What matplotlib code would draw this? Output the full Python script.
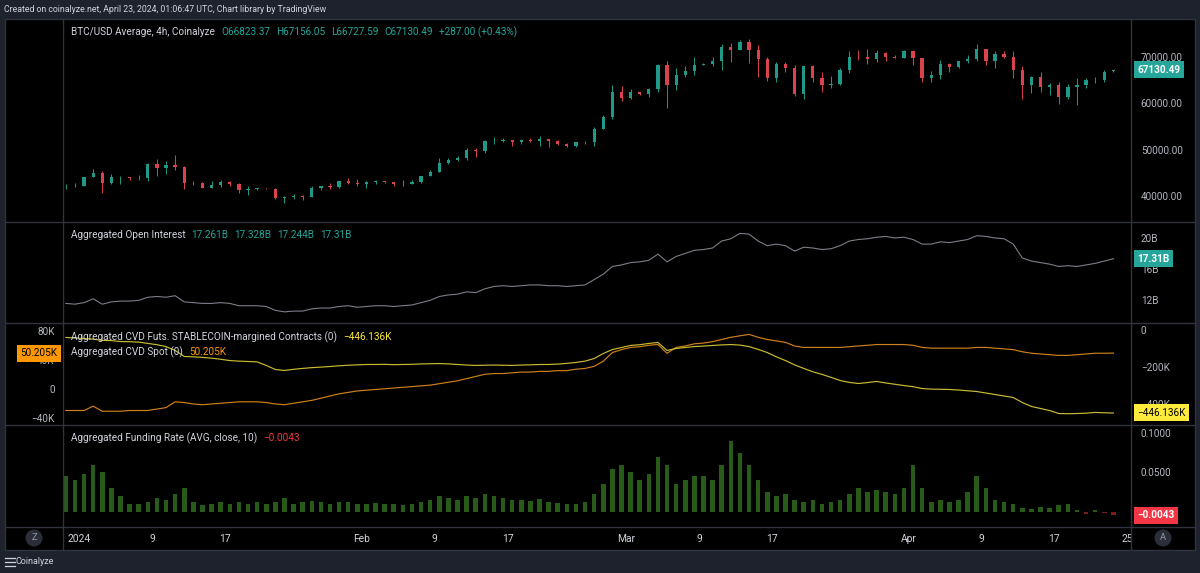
import matplotlib
matplotlib.use("Agg")
import matplotlib.pyplot as plt
import pandas as pd
from matplotlib.lines import Line2D
from matplotlib.patches import Rectangle, Ellipse

plt.rcParams['font.family'] = ['Roboto', 'DejaVu Sans']

# ---- data (daily) ----
dates = pd.date_range("2023-12-30", "2024-04-23", freq="D")

opens = [42100, 42150,
         42280, 44180, 44950, 42850, 44150, 44150, 43970, 43930, 46970, 46120, 46650, 46340, 42780, 42840, 41730, 42510,
         43150, 42740, 41270, 41620, 41660, 41580, 39530, 39870, 40080, 39940, 41820, 42120, 42030, 43300, 42950,
         42580, 43080, 43190, 42990, 42580, 42700, 43090, 44340, 45290, 47150, 47770, 48290, 49960, 49700, 51800,
         51940, 52130, 51640, 52120, 51780, 52260, 51850, 51300, 50740, 51570, 51730, 54480, 57040, 62430,
         61200, 62400, 62020, 63130, 68300, 63800, 66100, 66900, 68300, 68500, 69000, 72100, 71500, 73100, 71400,
         69400, 65300, 68400, 67600, 61900, 67900, 65500, 63800, 64100, 67200, 70000, 69900, 69500, 70800, 70000, 69700,
         71300, 69600, 65500, 66000, 68500, 67800, 69000, 69400, 71600, 69100, 70600, 70000, 67100, 63900, 65700,
         63400, 63800, 61300, 63500, 63800, 64900, 64900, 66823]
highs = [42600, 42900,
         44200, 45900, 45500, 44750, 44350, 44200, 44500, 47200, 47900, 47650, 48970, 46500, 43250, 43080, 43300, 43560,
         43200, 42900, 42150, 41820, 41870, 41680, 40130, 40520, 40300, 42200, 42200, 42840, 43300, 43850, 43750,
         43280, 43480, 43380, 43120, 43500, 43400, 44360, 45600, 48180, 48150, 48550, 50330, 50370, 52020, 52820,
         52570, 52150, 52330, 52480, 52930, 52370, 52010, 51530, 51680, 51940, 54900, 57550, 63900, 63600,
         63150, 62480, 63200, 68500, 69000, 67600, 67980, 69990, 68600, 69900, 72800, 72900, 73650, 73750, 72400,
         70000, 68800, 68900, 68100, 68000, 68200, 66600, 65900, 67600, 71100, 71500, 71700, 71500, 70900, 70300, 71400,
         71400, 69700, 66900, 69300, 68700, 69100, 70300, 72700, 71700, 71100, 71200, 71200, 67900, 65800, 66800,
         64400, 64500, 64100, 65400, 65400, 65600, 67200, 67156]
lows = [41500, 41970,
        42180, 44100, 40800, 42650, 42600, 43400, 43600, 43200, 44300, 44700, 45600, 41500, 42450, 41720, 41720, 42050,
        42200, 40700, 40300, 41430, 41500, 39450, 38550, 39500, 39260, 39830, 41400, 41650, 41800, 42700, 42300,
        41880, 42600, 42880, 42280, 42260, 42580, 42790, 44330, 45250, 46900, 47550, 47720, 48360, 49300, 51330,
        51630, 50700, 51200, 51700, 50800, 50670, 50960, 50530, 50590, 51300, 50900, 54450, 56700, 60400,
        60800, 61690, 61350, 62500, 59000, 62800, 65600, 66100, 68100, 68000, 67200, 68800, 71400, 68600, 65600,
        64800, 64600, 66600, 61600, 60800, 64500, 62300, 63300, 63800, 66400, 69300, 68400, 68900, 69100, 69600, 69600,
        68200, 64600, 64500, 65100, 66600, 67500, 68700, 69100, 68200, 67500, 69600, 65300, 61000, 62200, 62300,
        61700, 59800, 60800, 59600, 63200, 64300, 64600, 66728]
closes = [42150, 42280,
          44180, 44950, 42850, 44150, 44150, 43970, 43930, 46970, 46120, 46650, 46340, 42780, 42840, 41730, 42510, 43150,
          42740, 41270, 41620, 41660, 41580, 39530, 39870, 40080, 39940, 41820, 42120, 42030, 43300, 42950, 42580,
          43080, 43190, 42990, 42580, 42700, 43090, 44340, 45290, 47150, 47770, 48290, 49960, 49700, 51800, 51940,
          52130, 51640, 52120, 51780, 52260, 51850, 51300, 50740, 51570, 51730, 54480, 57040, 62430, 61200,
          62400, 62020, 63130, 68300, 63800, 66100, 66900, 68300, 68500, 69000, 72100, 71500, 73100, 71400, 69400,
          65300, 68400, 67600, 61900, 67900, 65500, 63800, 64100, 67200, 70000, 69900, 69500, 70800, 70000, 69700, 71300,
          69600, 65500, 66000, 68500, 67800, 69000, 69400, 71600, 69100, 70600, 70000, 67100, 63900, 65700, 63400,
          63800, 61300, 63500, 63800, 64900, 64900, 66800, 67130.49]

open_interest = [11.5, 11.4,
                 11.6, 12.1, 11.4, 11.7, 11.8, 11.8, 11.9, 12.3, 12.4, 12.3, 12.5, 11.7, 11.6, 11.5, 11.5, 11.6,
                 11.5, 11.2, 11.2, 11.2, 11.1, 10.6, 10.4, 10.5, 10.5, 10.8, 10.9, 10.9, 11.1, 11.2, 11.0,
                 11.1, 11.2, 11.2, 11.1, 11.2, 11.3, 11.6, 11.9, 12.4, 12.6, 12.7, 13.0, 12.9, 13.4, 13.7,
                 13.8, 13.7, 13.8, 13.9, 13.9, 13.8, 13.8, 13.7, 13.8, 13.9, 14.6, 15.3, 16.3, 16.5,
                 16.8, 16.9, 17.1, 17.9, 16.9, 17.6, 18.0, 18.4, 18.5, 18.7, 19.6, 19.9, 20.6, 20.5, 19.6,
                 19.0, 19.2, 19.0, 18.3, 18.8, 18.7, 18.5, 18.6, 19.0, 19.6, 19.8, 19.9, 20.1, 20.2, 20.0, 20.1,
                 19.8, 19.2, 19.2, 19.5, 19.4, 19.6, 19.8, 20.3, 20.2, 20.0, 19.9, 19.2, 17.4, 17.0, 16.8,
                 16.6, 16.3, 16.4, 16.3, 16.5, 16.7, 17.0, 17.31]

cvd_futs = [-41, -44,
            -47, -50, -57, -58, -63, -64, -66, -73, -80, -90, -111, -143, -145, -148, -152, -158,
            -165, -168, -170, -172, -191, -213, -218, -212, -207, -203, -200, -197, -193, -190, -188,
            -186, -186, -185, -187, -186, -185, -183, -182, -181, -183, -186, -189, -191, -190, -189,
            -190, -191, -189, -188, -186, -186, -184, -180, -175, -168, -154, -127, -106, -95,
            -84, -80, -73, -68, -111, -100, -95, -90, -87, -84, -81, -79, -82, -90, -105,
            -122, -145, -165, -188, -207, -225, -239, -255, -272, -282, -288, -283, -277, -285, -292, -299,
            -305, -315, -318, -319, -320, -323, -327, -331, -339, -347, -355, -363, -390, -411, -422,
            -433, -449, -450, -449, -447, -443, -445, -446.136]

cvd_spot = [-29, -29,
            -29, -23, -30, -30, -30, -29, -29, -29, -27, -25, -17, -18, -20, -21, -20, -19,
            -18, -17, -17, -17, -18, -20, -21, -19, -17, -15, -12, -9, -6, -4, -2,
            -1, 0, 1, 2, 3, 4, 5, 6, 8, 10, 12, 15, 18, 21, 22,
            22, 23, 24, 24, 25, 25, 26, 26, 28, 29, 32, 39, 51, 55,
            58, 59, 61, 62, 50, 58, 60, 63, 64, 66, 69, 72, 74, 76, 72,
            69, 67, 65, 60, 58, 58, 58, 58, 58, 59, 60, 61, 62, 62, 62, 62,
            61, 58, 57, 57, 57, 57, 57, 58, 58, 57, 56, 55, 52, 50, 49,
            48, 47, 47, 48, 49, 50, 50, 50.205]

funding = [0.045, 0.040,
           0.048, 0.060, 0.050, 0.030, 0.020, 0.010, 0.010, 0.012, 0.018, 0.015, 0.022, 0.030, 0.012, 0.008, 0.010,
           0.012, 0.010, 0.012, 0.010, 0.012, 0.010, 0.012, 0.018, 0.010, 0.012, 0.014, 0.012, 0.010, 0.012, 0.012,
           0.010,
           0.010, 0.011, 0.010, 0.010, 0.009, 0.010, 0.012, 0.015, 0.020, 0.018, 0.015, 0.020, 0.018, 0.022, 0.020,
           0.018, 0.015, 0.015, 0.014, 0.016, 0.012, 0.011, 0.010, 0.010, 0.012, 0.022, 0.035, 0.055, 0.060,
           0.050, 0.040, 0.048, 0.070, 0.060, 0.035, 0.040, 0.045, 0.045, 0.040, 0.060, 0.090, 0.075, 0.060, 0.040,
           0.025, 0.020, 0.022, 0.015, 0.012, 0.015, 0.010, 0.012, 0.015, 0.022, 0.030, 0.025, 0.028, 0.025, 0.022,
           0.030,
           0.060, 0.030, 0.012, 0.015, 0.012, 0.015, 0.025, 0.045, 0.030, 0.015, 0.012, 0.010, 0.005, 0.004, 0.006,
           0.005, 0.008, 0.010, 0.002, -0.003, 0.002, -0.002, -0.0043]

time_ticks = ["2024-01-01", "2024-01-09", "2024-01-17", "2024-02-01", "2024-02-09", "2024-02-17",
              "2024-03-01", "2024-03-09", "2024-03-17", "2024-04-01", "2024-04-09", "2024-04-17", "2024-04-25"]
time_labels = ["2024", "9", "17", "Feb", "9", "17", "Mar", "9", "17", "Apr", "9", "17", "25"]

# ---- styling ----
W, H = 1200, 573
BG = '#1e222d'
SEP = '#2f333e'
TXT = '#d1d4dc'
AXT = '#b2b5be'
UP, DOWN = '#1f9a88', '#d9434d'
TEAL = '#26a69a'
YEL = '#ffeb3b'
ORG = '#ff9800'
RED = '#f23645'

t0 = pd.Timestamp("2024-01-01")
x = [(d - t0).days + 0.5 for d in dates]
XMIN, XMAX = -1.81, 115.43


def fx(px):
    return px / W


def fy(py):
    return 1 - py / H


fig = plt.figure(figsize=(12, 5.73), dpi=100, facecolor=BG)
fig.add_artist(Rectangle((fx(5), fy(550)), fx(1195) - fx(5), (550 - 19) / H, transform=fig.transFigure,
                         fc='black', ec=SEP, lw=1, zorder=-5))


def pane(top, bottom):
    ax = fig.add_axes([fx(63), fy(bottom), fx(1131) - fx(63), (bottom - top) / H])
    ax.set_facecolor('none')
    ax.set_xlim(XMIN, XMAX)
    ax.set_xticks([])
    for s in ax.spines.values():
        s.set_visible(False)
    ax.yaxis.tick_right()
    ax.tick_params(axis='y', length=0, pad=7, labelcolor=AXT, labelsize=7.2)
    return ax


# price pane
ax1 = pane(19, 221.5)
ax1.set_ylim(34580, 78080)
cols = [UP if c >= o else DOWN for o, c in zip(opens, closes)]
ax1.vlines(x, lows, highs, colors=cols, lw=0.7)
ax1.bar(x, [max(abs(c - o), 60) for o, c in zip(opens, closes)], bottom=[min(o, c) for o, c in zip(opens, closes)],
        width=0.36, color=cols)
ax1.set_yticks([40000, 50000, 60000, 70000])
ax1.set_yticklabels(['40000.00', '50000.00', '60000.00', '70000.00'])

# open interest pane
ax2 = pane(221.5, 322.5)
ax2.set_ylim(9.02, 22.14)
ax2.plot(x, open_interest, color='#7b7e87', lw=0.8)
ax2.set_yticks([12, 16, 20])
ax2.set_yticklabels(['12B', '16B', '20B'])

# CVD pane (spot on left scale, futures on right scale)
ax3 = pane(322.5, 424.5)
ax3.yaxis.tick_left()
ax3.tick_params(axis='y', length=0, pad=6, labelcolor=AXT, labelsize=7.2)
ax3.set_ylim(-48.3, 92.4)
ax3.plot(x, cvd_spot, color='#cf8119', lw=0.85)
ax3.set_yticks([-40, 0, 40, 80])
ax3.set_yticklabels(['\u221240K', '0', '40K', '80K'])
ax3r = ax3.twinx()
ax3r.set_xlim(XMIN, XMAX)
for s in ax3r.spines.values():
    s.set_visible(False)
ax3r.tick_params(axis='y', length=0, pad=7, labelcolor=AXT, labelsize=7.2)
ax3r.set_ylim(-507.8, 39.1)
ax3r.plot(x, cvd_futs, color='#cbbb33', lw=0.85)
ax3r.set_yticks([-400, -200, 0])
ax3r.set_yticklabels(['\u2212400K', '\u2212200K', '0'])

# funding pane
ax4 = pane(424.5, 527)
ax4.set_ylim(-0.0194, 0.111)
ax4.bar(x, funding, width=0.5, color=['#285a1a' if v >= 0 else '#7a1c1c' for v in funding])
ax4.set_yticks([0.05, 0.1])
ax4.set_yticklabels(['0.0500', '0.1000'])

# time axis row
axt = fig.add_axes([fx(63), fy(550), fx(1131) - fx(63), (550 - 527) / H])
axt.set_facecolor('none')
axt.set_xlim(XMIN, XMAX)
axt.set_ylim(0, 1)
axt.axis('off')
for d, lab in zip(time_ticks, time_labels):
    axt.text((pd.Timestamp(d) - t0).days, 0.48, lab, ha='center', va='center', color=TXT,
             fontsize=7.4, clip_on=True)

# separators
for yy in [221.5, 322.5, 424.5, 527]:
    fig.add_artist(Line2D([fx(5), fx(1195)], [fy(yy), fy(yy)], color=SEP, lw=1))
for xx in [63, 1131]:
    fig.add_artist(Line2D([fx(xx), fx(xx)], [fy(19), fy(550)], color=SEP, lw=1))

# value tags on the scales
tag_x = 1 + 6 / 1068
ax1.text(tag_x, 67130.49, '67130.49', transform=ax1.get_yaxis_transform(), ha='left', va='center', color='white',
         fontsize=7.2, fontweight='bold', bbox=dict(boxstyle='square,pad=0.35', fc=TEAL, ec='none'), clip_on=False)
ax2.text(tag_x, 17.31, '17.31B', transform=ax2.get_yaxis_transform(), ha='left', va='center', color='white',
         fontsize=7.2, fontweight='bold', bbox=dict(boxstyle='square,pad=0.35', fc=TEAL, ec='none'), clip_on=False)
ax3r.text(tag_x, -446.136, '\u2212446.136K', transform=ax3r.get_yaxis_transform(), ha='left', va='center',
          color='black', fontsize=7.2, bbox=dict(boxstyle='square,pad=0.35', fc=YEL, ec='none'), clip_on=False)
ax4.text(tag_x, -0.0043, '\u22120.0043', transform=ax4.get_yaxis_transform(), ha='left', va='center', color='white',
         fontsize=7.2, fontweight='bold', bbox=dict(boxstyle='square,pad=0.35', fc=RED, ec='none'), clip_on=False)
ax3.text(-6 / 1068, 50.205, '50.205K', transform=ax3.get_yaxis_transform(), ha='right', va='center',
         color='black', fontsize=7.2, bbox=dict(boxstyle='square,pad=0.35', fc=ORG, ec='none'), clip_on=False)

# legends written as rows of coloured text
renderer = fig.canvas.get_renderer()


def text_row(px, py, parts, size=7.2, gap=6):
    for s, c in parts:
        t = fig.text(fx(px), fy(py), s, color=c, fontsize=size, ha='left', va='center')
        px += t.get_window_extent(renderer).width + gap


text_row(71, 32, [('BTC/USD Average, 4h, Coinalyze', TXT), ('O66823.37', TEAL), ('H67156.05', TEAL),
                  ('L66727.59', TEAL), ('C67130.49', TEAL), ('+287.00 (+0.43%)', TEAL)])
text_row(71, 235, [('Aggregated Open Interest', TXT), ('17.261B', TEAL), ('17.328B', TEAL),
                   ('17.244B', TEAL), ('17.31B', TEAL)])
text_row(71, 337, [('Aggregated CVD Futs. STABLECOIN-margined Contracts (0)', TXT), ('\u2212446.136K', YEL)])
text_row(71, 352, [('Aggregated CVD Spot (0)', TXT), ('50.205K', ORG)])
text_row(71, 438, [('Aggregated Funding Rate (AVG, close, 10)', TXT), ('\u22120.0043', RED)])

# header and footer
fig.text(fx(4), fy(9), 'Created on coinalyze.net, April 23, 2024, 01:06:47 UTC, Chart library by TradingView',
         color=TXT, fontsize=6.3, ha='left', va='center')
for yy in [558, 562, 566]:
    fig.add_artist(Line2D([fx(5), fx(15)], [fy(yy), fy(yy)], color=TXT, lw=0.9))
fig.text(fx(16), fy(562), 'Coinalyze', color=TXT, fontsize=6.5, ha='left', va='center')

# round scale buttons
for bx, lab in [(34, 'Z'), (1163, 'A')]:
    fig.add_artist(Ellipse((fx(bx), fy(538)), 17 / W, 17 / H, transform=fig.transFigure, fc='#2a2e39', ec='none'))
    fig.text(fx(bx), fy(538), lab, color='#9598a1', fontsize=6.8, ha='center', va='center')

fig.savefig('out.png', dpi=100, facecolor=BG)
